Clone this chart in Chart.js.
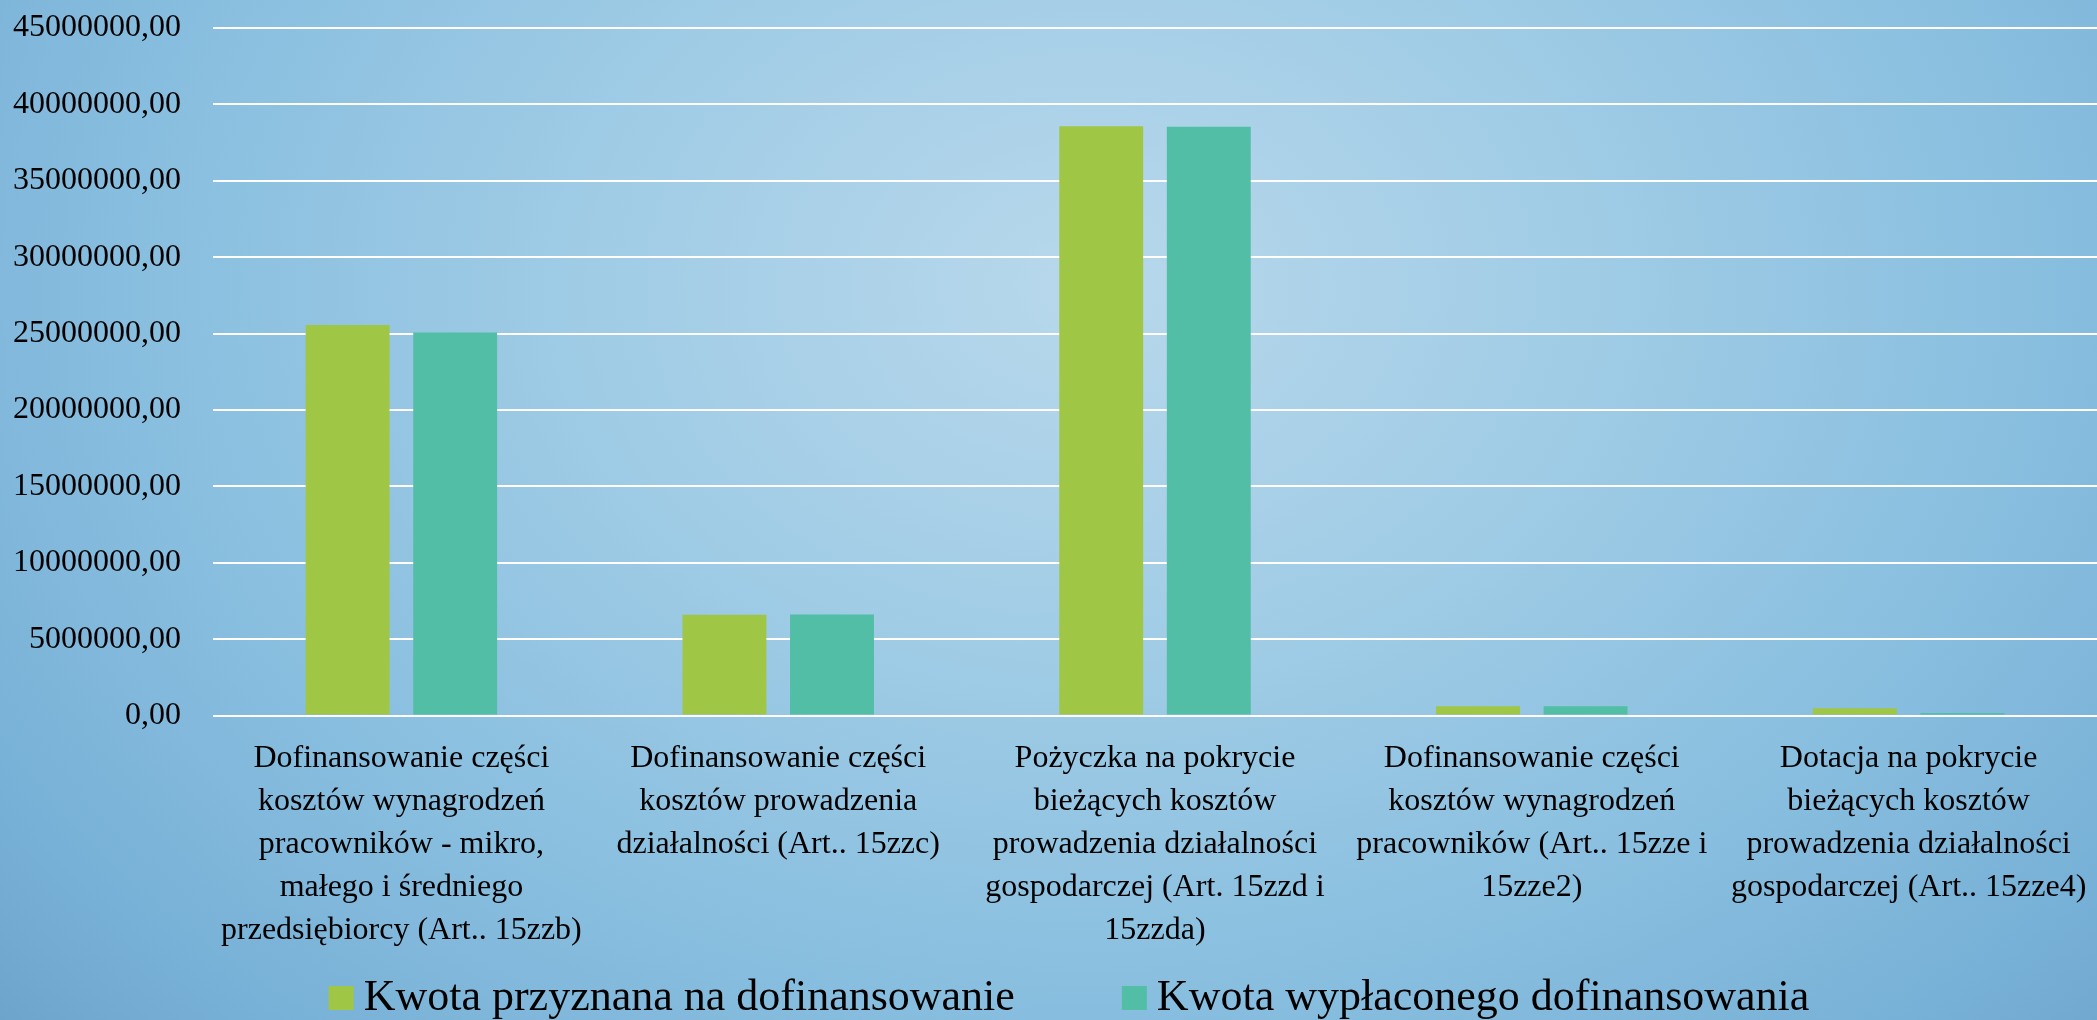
<!DOCTYPE html>
<html>
<head>
<meta charset="utf-8">
<script src="https://cdn.jsdelivr.net/npm/chart.js@4/dist/chart.umd.min.js"></script>
<style>
    html, body { margin: 0; padding: 0; }
    body {
        width: 2097px;
        height: 1020px;
        overflow: hidden;
        background: radial-gradient(ellipse 78% 120% at 52% 28%, #b8d8ec 0%, #a2cde6 28%, #8bc0e0 55%, #78b1d7 78%, #6499c2 100%);
    }
    canvas { display: block; }
</style>
</head>
<body>
<canvas id="myChart" width="2097" height="1020"></canvas>
<script>
    // values
    var categories = [
        ["Dofinansowanie części", "kosztów wynagrodzeń", "pracowników - mikro,", "małego i średniego", "przedsiębiorcy (Art.. 15zzb)"],
        ["Dofinansowanie części", "kosztów prowadzenia", "działalności (Art.. 15zzc)"],
        ["Pożyczka na pokrycie", "bieżących kosztów", "prowadzenia działalności", "gospodarczej (Art. 15zzd i", "15zzda)"],
        ["Dofinansowanie części", "kosztów wynagrodzeń", "pracowników (Art.. 15zze i", "15zze2)"],
        ["Dotacja na pokrycie", "bieżących kosztów", "prowadzenia działalności", "gospodarczej (Art.. 15zze4)"]
    ];
    var seriesNames = ["Kwota przyznana na dofinansowanie", "Kwota wypłaconego dofinansowania"];
    var przyznana = [25570000, 6600000, 38570000, 610000, 480000];
    var wyplacone = [25070000, 6620000, 38530000, 610000, 170000];
    var yMin = 0, yMax = 45000000, yStep = 5000000;

    var green = '#a0c646';
    var teal = '#51bea5';
    var serif = "'Liberation Serif', 'DejaVu Serif', serif";

    Chart.defaults.color = '#000';
    Chart.defaults.font.family = serif;

    // legend drawn at the bottom, same look as the slide
    var bottomLegend = {
        id: 'bottomLegend',
        afterDraw: function (chart) {
            var c = chart.ctx;
            var sets = chart.data.datasets;
            var box = 25, gap = 10, itemGap = 107;
            c.save();
            c.font = "44px " + serif;
            c.textBaseline = 'alphabetic';
            var total = 0;
            sets.forEach(function (ds, i) {
                total += box + gap + c.measureText(ds.label).width;
                if (i < sets.length - 1) total += itemGap;
            });
            var x = 1069 - total / 2;
            var base = chart.height - 10;
            sets.forEach(function (ds) {
                c.fillStyle = ds.backgroundColor;
                c.fillRect(x, base - 24, box, box - 1);
                c.fillStyle = '#000';
                c.fillText(ds.label, x + box + gap, base);
                x += box + gap + c.measureText(ds.label).width + itemGap;
            });
            c.restore();
        }
    };

    var el = document.getElementById('myChart');
    var myChart = new Chart(el, {
        type: 'bar',
        data: {
            labels: categories,
            datasets: [{
                label: seriesNames[0],
                data: przyznana,
                backgroundColor: green,
                categoryPercentage: 0.571,
                barPercentage: 0.78
            }, {
                label: seriesNames[1],
                data: wyplacone,
                backgroundColor: teal,
                categoryPercentage: 0.571,
                barPercentage: 0.78
            }]
        },
        options: {
            responsive: false,
            animation: false,
            layout: {
                padding: { top: 28, left: 13, right: 0, bottom: 66 }
            },
            plugins: {
                legend: { display: false },
                tooltip: { enabled: false }
            },
            scales: {
                x: {
                    grid: { display: false, drawTicks: true, tickLength: 20 },
                    border: { display: false },
                    ticks: {
                        autoSkip: false,
                        maxRotation: 0,
                        minRotation: 0,
                        padding: 2,
                        font: { size: 32, lineHeight: 1.34 }
                    }
                },
                y: {
                    min: yMin,
                    max: yMax,
                    afterFit: function (scale) { scale.width = 200; },
                    grid: { color: '#ffffff', lineWidth: 2, drawTicks: true, tickLength: 29, tickColor: 'rgba(0,0,0,0)' },
                    border: { display: false },
                    ticks: {
                        stepSize: yStep,
                        padding: 3,
                        font: { size: 32 },
                        callback: function (v) { return v.toFixed(2).replace('.', ','); }
                    }
                }
            }
        },
        plugins: [bottomLegend]
    });
</script>
</body>
</html>
